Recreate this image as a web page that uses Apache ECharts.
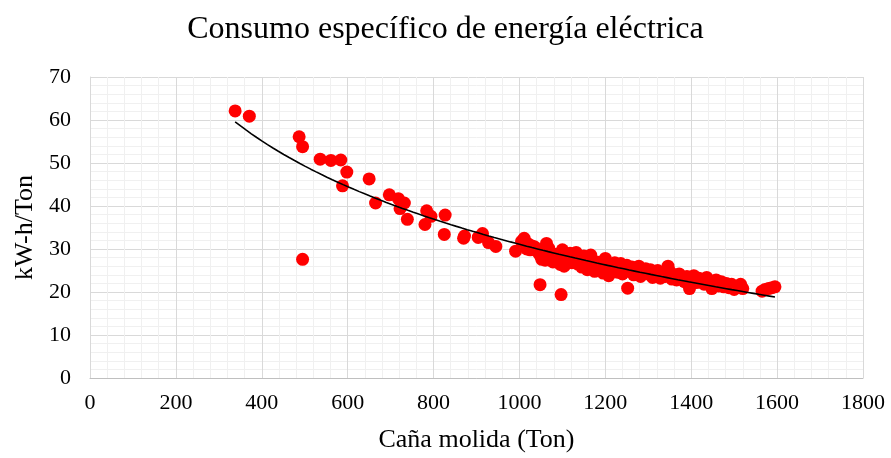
<!DOCTYPE html>
<html>
<head>
<meta charset="utf-8">
<script src="https://cdn.jsdelivr.net/npm/echarts@6/dist/echarts.min.js"></script>
<style>
  html, body { margin: 0; padding: 0; background: #fff; }
  #chart { width: 891px; height: 458px; }
</style>
</head>
<body>
<div id="chart"></div>
<script>
// Caña molida (Ton) por día
const canaMolida = [
  338, 371, 487, 495, 495, 536, 561, 584, 598, 588, 650, 665, 697, 718, 732, 722, 739,
  784, 794, 780, 827, 825, 872, 870, 904, 914, 928, 945, 991, 1011, 1017, 1029, 1040,
  1063, 1052, 1048, 1097, 1252,
  1005, 1020, 1025, 1035, 1045, 1050, 1055, 1060, 1068, 1072, 1078, 1085, 1090, 1095,
  1100, 1104, 1108, 1112, 1118, 1122, 1128, 1132, 1136, 1140, 1145, 1150, 1155, 1158,
  1162, 1166, 1170, 1175, 1180, 1185, 1190, 1195, 1200, 1205, 1208, 1212, 1218, 1222,
  1228, 1232, 1236, 1240, 1245, 1250, 1256, 1262, 1266, 1272, 1278, 1282, 1288, 1294,
  1300, 1305, 1310, 1316, 1322, 1328, 1334, 1340, 1346, 1350, 1355, 1360, 1366, 1372,
  1378, 1384, 1390, 1396, 1400, 1406, 1412, 1418, 1424, 1430, 1436, 1442, 1448, 1452,
  1458, 1464, 1470, 1476, 1482, 1488, 1494, 1500, 1508, 1515, 1520, 1565, 1572, 1580,
  1588, 1595
];

// Consumo específico (kW-h/Ton) correspondiente
const consumoEspecifico = [
  62.1, 60.9, 56.1, 53.8, 27.6, 50.9, 50.6, 50.7, 47.9, 44.7, 46.3, 40.7, 42.6, 41.7, 40.7, 39.4, 36.9,
  38.9, 37.6, 35.7, 37.9, 33.4, 33.0, 32.5, 32.7, 33.6, 31.5, 30.6, 29.5, 32.5, 30.0, 30.7, 30.0,
  31.3, 27.6, 21.7, 19.4, 20.9,
  31.8, 31.2, 29.8, 30.5, 29.0, 28.2, 29.6, 27.4, 30.2, 28.6, 27.0, 28.8, 27.6, 26.4,
  29.8, 26.0, 28.2, 27.0, 29.0, 26.8, 28.0, 29.2, 26.5, 27.6, 25.8, 28.4, 26.6, 25.2,
  27.2, 28.6, 26.0, 24.8, 27.0, 25.6, 26.8, 24.4, 27.8, 25.8, 23.8, 26.4, 25.0, 26.8,
  24.6, 25.8, 26.6, 24.2, 25.4, 26.2, 24.8, 25.8, 24.0, 25.2, 26.0, 23.6, 24.8, 25.4,
  24.2, 25.2, 23.4, 24.6, 25.0, 23.2, 24.2, 23.6, 26.0, 24.8, 23.0, 24.0, 22.8, 24.2,
  23.4, 22.4, 23.6, 20.8, 22.8, 23.8, 22.2, 23.2, 22.6, 21.8, 23.4, 22.2, 20.8, 21.6,
  22.8, 21.4, 22.4, 21.2, 22.0, 21.0, 21.8, 20.6, 21.4, 21.8, 20.8, 20.2, 20.6, 20.8,
  21.0, 21.2
];

const xTicks = { min: 0, max: 1800, interval: 200 };
const yTicks = { min: 0, max: 70, interval: 10 };

const puntos = canaMolida.map((x, i) => [x, consumoEspecifico[i]]);

// Línea de tendencia logarítmica: y = a + b·ln(x), por mínimos cuadrados
function ajusteLogaritmico(xs, ys) {
  const n = xs.length;
  let sl = 0, sy = 0, sll = 0, sly = 0;
  for (let i = 0; i < n; i++) {
    const l = Math.log(xs[i]);
    sl += l; sy += ys[i]; sll += l * l; sly += l * ys[i];
  }
  const b = (n * sly - sl * sy) / (n * sll - sl * sl);
  const a = (sy - b * sl) / n;
  return { a, b };
}
const ajuste = ajusteLogaritmico(canaMolida, consumoEspecifico);
const xMin = Math.min(...canaMolida), xMax = Math.max(...canaMolida);
const tendencia = [];
for (let k = 0; k <= 100; k++) {
  const x = xMin + (xMax - xMin) * k / 100;
  tendencia.push([x, ajuste.a + ajuste.b * Math.log(x)]);
}

const serif = '"Liberation Serif", "DejaVu Serif", serif';
const chart = echarts.init(document.getElementById('chart'), null, { renderer: 'canvas' });

chart.setOption({
  animation: false,
  backgroundColor: '#ffffff',
  title: {
    text: 'Consumo específico de energía eléctrica',
    left: 'center',
    top: 9,
    textStyle: { fontFamily: serif, fontSize: 32, fontWeight: 'normal', color: '#000' }
  },
  grid: { left: 90, right: 28, top: 77, bottom: 78 },
  xAxis: {
    type: 'value',
    min: xTicks.min, max: xTicks.max, interval: xTicks.interval,
    name: 'Caña molida (Ton)',
    nameLocation: 'middle',
    nameGap: 49,
    nameTextStyle: { fontFamily: serif, fontSize: 26, color: '#000' },
    axisLine: { show: true, lineStyle: { color: '#bfbfbf', width: 1 } },
    axisTick: { show: false },
    axisLabel: {
      fontFamily: serif, fontSize: 22, color: '#000', margin: 14,
      showMinLabel: true, showMaxLabel: true,
      formatter: v => String(v)
    },
    splitLine: { show: true, lineStyle: { color: '#d9d9d9', width: 1 } },
    minorTick: { show: false, splitNumber: 5 },
    minorSplitLine: { show: true, lineStyle: { color: '#f0f0f0', width: 1 } }
  },
  yAxis: {
    type: 'value',
    min: yTicks.min, max: yTicks.max, interval: yTicks.interval,
    name: 'kW-h/Ton',
    nameLocation: 'middle',
    nameGap: 52,
    nameTextStyle: { fontFamily: serif, fontSize: 26, color: '#000' },
    axisLine: { show: true, lineStyle: { color: '#d9d9d9', width: 1 } },
    axisTick: { show: false },
    axisLabel: { fontFamily: serif, fontSize: 22, color: '#000', margin: 19, formatter: v => String(v) },
    splitLine: { show: true, lineStyle: { color: '#d9d9d9', width: 1 } },
    minorTick: { show: false, splitNumber: 5 },
    minorSplitLine: { show: true, lineStyle: { color: '#f0f0f0', width: 1 } }
  },
  series: [
    {
      name: 'Consumo',
      type: 'scatter',
      data: puntos,
      symbol: 'circle',
      symbolSize: 13,
      itemStyle: { color: '#ff0000', opacity: 1 },
      z: 2
    },
    {
      name: 'Tendencia',
      type: 'line',
      data: tendencia,
      showSymbol: false,
      smooth: false,
      lineStyle: { color: '#000000', width: 1.6 },
      z: 3
    }
  ]
});
</script>
</body>
</html>
